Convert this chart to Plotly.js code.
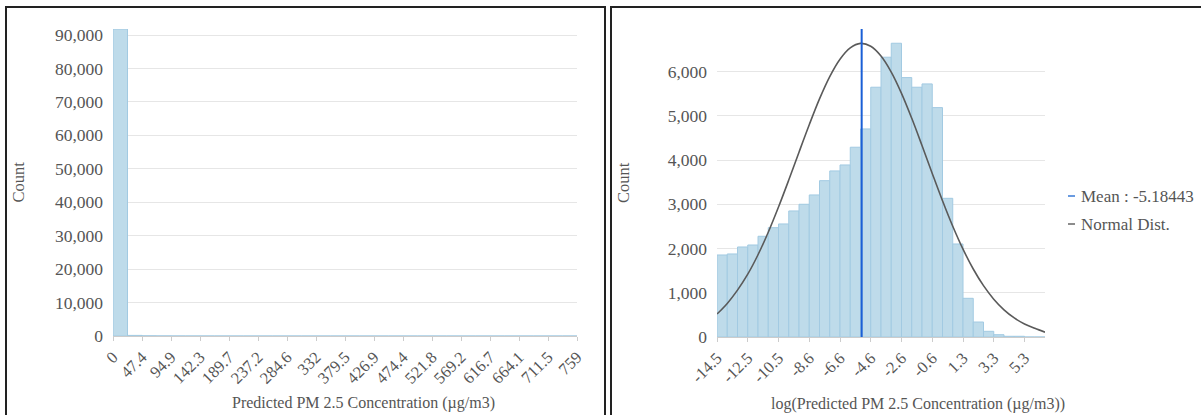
<!DOCTYPE html>
<html>
<head>
<meta charset="utf-8">
<script src="https://cdn.plot.ly/plotly-3.0.1.min.js"></script>
<style>
  html, body { margin:0; padding:0; width:1201px; height:415px; overflow:hidden; background:#fff; }
  .panel { position:absolute; box-sizing:border-box; border:2px solid #222; height:440px; overflow:hidden; background:#fff; }
  #pa { left:5px; top:6px; width:601px; }
  #pb { left:610px; top:6px; width:600px; }
  .plot { position:absolute; left:0; top:0; }
</style>
</head>
<body>
<div class="panel" id="pa"><div class="plot" id="plotA"></div></div>
<div class="panel" id="pb"><div class="plot" id="plotB"></div></div>
<script>
// ---------- Data: left histogram (raw concentration) ----------
const pmBinStart = 0;
const pmBinWidth = 23.72;
const pmCounts = [91800, 180, 60, 25, 12, 8, 5, 3, 0, 0, 0, 0, 0, 0, 0, 0,
                  0, 0, 0, 0, 0, 0, 0, 0, 0, 0, 0, 0, 0, 0, 0, 2];
const pmTickValues = [0, 47.44, 94.88, 142.32, 189.76, 237.2, 284.64, 332.08, 379.52,
                      426.96, 474.4, 521.84, 569.28, 616.72, 664.16, 711.6, 759.04];
const pmTickLabels = ['0', '47.4', '94.9', '142.3', '189.7', '237.2', '284.6', '332', '379.5',
                      '426.9', '474.4', '521.8', '569.2', '616.7', '664.1', '711.5', '759'];

// ---------- Data: right histogram (log concentration) ----------
const logBinStart = -14.5;
const logBinWidth = 0.66;
const logCounts = [1855, 1878, 2036, 2081, 2278, 2473, 2557, 2851, 3002, 3213, 3536, 3756,
                   3891, 4292, 4706, 5649, 6328, 6644, 5867, 5649, 5724, 5188, 3137, 2104,
                   875, 339, 129, 52, 16, 16, 0, 0];
const logTickLabels = ['-14.5', '-12.5', '-10.5', '-8.6', '-6.6', '-4.6', '-2.6', '-0.6', '1.3', '3.3', '5.3'];
const meanValue = -5.18443;
// Normal curve read at each bin edge
const normalCurve = [520, 760, 1060, 1420, 1860, 2370, 2940, 3550, 4180, 4800, 5385, 5890,
                     6283, 6539, 6640, 6576, 6355, 5992, 5511, 4946, 4331, 3699, 3082, 2505,
                     1987, 1538, 1161, 855, 614, 431, 295, 197, 110];

// ---------- Styles ----------
const FONT = 'Liberation Serif, Times New Roman, serif';
const TXT = '#555';
const BAR_FILL = 'rgb(190,219,234)';
const BAR_LINE = 'rgb(162,202,226)';
const GRID = '#e6e6e6';
const AXIS = '#cccccc';
const YTICK = 17.5, XTICK = 16.5;

// ---------- Left chart ----------
const pmCenters = pmCounts.map((_, i) => pmBinStart + pmBinWidth * (i + 0.5));
const pmRangeMax = pmBinStart + pmBinWidth * pmCounts.length;

const plotAL = 106, plotAR = 27, plotAT = 21, plotAB = 79, plotAW = 597, plotAH = 407;
Plotly.newPlot('plotA', [{
  type: 'bar', x: pmCenters, y: pmCounts, width: pmBinWidth,
  marker: { color: BAR_FILL, line: { color: BAR_LINE, width: 1 } },
  hoverinfo: 'none'
}], {
  width: plotAW, height: plotAH,
  margin: { l: plotAL, r: plotAR, t: plotAT, b: plotAB, pad: 0 },
  bargap: 0, showlegend: false,
  paper_bgcolor: '#fff', plot_bgcolor: '#fff',
  font: { family: FONT, color: TXT },
  xaxis: {
    range: [pmBinStart, pmRangeMax], tickmode: 'array', tickvals: pmTickValues, ticktext: pmTickLabels,
    tickangle: -45, ticks: 'outside', ticklen: 4, tickcolor: AXIS, showline: true, linecolor: AXIS,
    showgrid: false, zeroline: false, tickfont: { size: XTICK, color: TXT }, layer: 'below traces', automargin: false
  },
  yaxis: {
    range: [0, Math.max(...pmCounts)], dtick: 10000, tickformat: ',d', showgrid: true, gridcolor: GRID,
    gridwidth: 1, zeroline: false, showline: false, ticks: '', tickfont: { size: YTICK, color: TXT },
    ticklabelstandoff: 9, automargin: false
  },
  annotations: [
    { text: 'Predicted PM 2.5 Concentration (µg/m3)', xref: 'paper', yref: 'paper',
      x: (363 - 113) / 464, y: 0, yshift: -67, xanchor: 'center', yanchor: 'middle', showarrow: false,
      font: { size: 16, color: TXT, family: FONT } },
    { text: 'Count', xref: 'paper', yref: 'paper', x: 0, xshift: -95, y: 0.5, textangle: -90,
      xanchor: 'center', yanchor: 'middle', showarrow: false, font: { size: 16.5, color: TXT, family: FONT } }
  ]
}, { staticPlot: true, displayModeBar: false });

// ---------- Right chart ----------
const logCenters = logCounts.map((_, i) => logBinStart + logBinWidth * (i + 0.5));
const logEdges = normalCurve.map((_, i) => logBinStart + logBinWidth * i);
const logTickValues = logTickLabels.map((_, i) => logBinStart + logBinWidth * 3 * i);
const logRangeMax = logBinStart + logBinWidth * logCounts.length;
const yMaxB = 6966;

const plotBL = 105, plotBR = 163, plotBT = 21, plotBB = 78, plotBW = 596, plotBH = 407;
const innerBW = plotBW - plotBL - plotBR, innerBH = plotBH - plotBT - plotBB;
// page-pixel helpers for legend placement
const pxX = px => (px - (612 + plotBL)) / innerBW;
const pxY = py => 1 - (py - (8 + plotBT)) / innerBH;

Plotly.newPlot('plotB', [
  {
    type: 'bar', x: logCenters, y: logCounts, width: logBinWidth,
    marker: { color: BAR_FILL, line: { color: BAR_LINE, width: 1 } }, hoverinfo: 'none'
  },
  {
    type: 'scatter', mode: 'lines', x: logEdges, y: normalCurve,
    line: { color: '#5a5a5a', width: 1.6, shape: 'spline' }, hoverinfo: 'none'
  }
], {
  width: plotBW, height: plotBH,
  margin: { l: plotBL, r: plotBR, t: plotBT, b: plotBB, pad: 0 },
  bargap: 0, showlegend: false,
  paper_bgcolor: '#fff', plot_bgcolor: '#fff',
  font: { family: FONT, color: TXT },
  xaxis: {
    range: [logBinStart, logRangeMax], tickmode: 'array', tickvals: logTickValues, ticktext: logTickLabels,
    tickangle: -45, ticks: 'outside', ticklen: 4, tickcolor: AXIS, showline: true, linecolor: AXIS,
    showgrid: false, zeroline: false, tickfont: { size: XTICK, color: TXT }, layer: 'below traces', automargin: false
  },
  yaxis: {
    range: [0, yMaxB], dtick: 1000, tickformat: ',d', showgrid: true, gridcolor: GRID,
    zeroline: false, showline: false, ticks: '', tickfont: { size: YTICK, color: TXT },
    ticklabelstandoff: 9, automargin: false
  },
  shapes: [
    { type: 'line', xref: 'x', yref: 'paper', x0: meanValue, x1: meanValue, y0: 0, y1: 1,
      line: { color: '#1a5fd6', width: 2 } },
    { type: 'line', xref: 'paper', yref: 'paper', x0: pxX(1068), x1: pxX(1075), y0: pxY(196), y1: pxY(196),
      line: { color: '#6a9be0', width: 2 } },
    { type: 'line', xref: 'paper', yref: 'paper', x0: pxX(1068), x1: pxX(1075), y0: pxY(224), y1: pxY(224),
      line: { color: '#666', width: 1.5 } }
  ],
  annotations: [
    { text: 'log(Predicted PM 2.5 Concentration (µg/m3))', xref: 'paper', yref: 'paper',
      x: (917 - 716.7) / 327.6, y: 0, yshift: -67, xanchor: 'center', yanchor: 'middle', showarrow: false,
      font: { size: 16, color: TXT, family: FONT } },
    { text: 'Count', xref: 'paper', yref: 'paper', x: 0, xshift: -94, y: 0.5, textangle: -90,
      xanchor: 'center', yanchor: 'middle', showarrow: false, font: { size: 16.5, color: TXT, family: FONT } },
    { text: 'Mean : ' + meanValue, xref: 'paper', yref: 'paper', x: pxX(1079), y: pxY(196),
      xanchor: 'left', yanchor: 'middle', showarrow: false, font: { size: 17, color: TXT, family: FONT } },
    { text: 'Normal Dist.', xref: 'paper', yref: 'paper', x: pxX(1079), y: pxY(224),
      xanchor: 'left', yanchor: 'middle', showarrow: false, font: { size: 17, color: TXT, family: FONT } }
  ]
}, { staticPlot: true, displayModeBar: false });
</script>
</body>
</html>
